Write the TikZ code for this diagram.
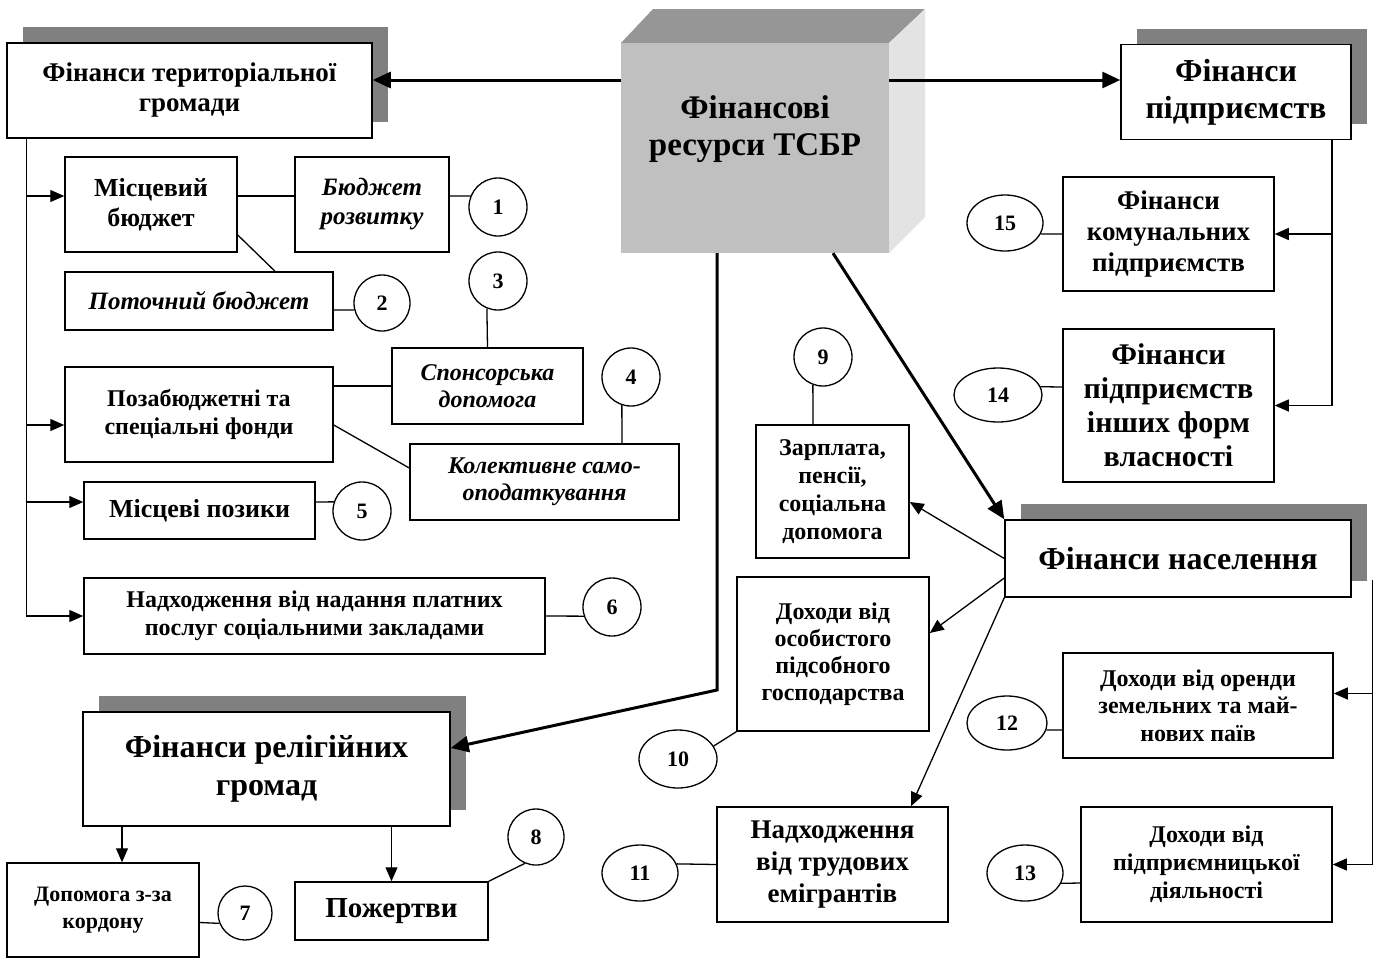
\documentclass[tikz,border=0pt]{standalone}
\usepackage{fontspec}
\setmainfont{Liberation Serif}
\usetikzlibrary{arrows.meta,shapes.geometric,shadows,calc}
\pgfdeclarelayer{back0}
\pgfdeclarelayer{back1}
\pgfsetlayers{back0,back1,main}
\definecolor{shadowgray}{HTML}{808080}
\definecolor{cubefront}{HTML}{C0C0C0}
\definecolor{cubetop}{HTML}{969696}
\definecolor{cuberight}{HTML}{E3E3E3}
\newcommand{\sz}[2]{\fontsize{#1}{#2}\selectfont}
\begin{document}
\begin{tikzpicture}[x=1pt,y=-1pt,
  box/.style={draw, line width=1.5pt, fill=white, align=center, inner sep=1pt},
  shd/.style={drop shadow={shadow xshift=16pt, shadow yshift=16pt, fill=shadowgray, opacity=1}},
  num/.style={circle, draw, line width=1.3pt, fill=white, inner sep=0pt, font=\sz{22}{24}\bfseries},
  oval/.style={ellipse, draw, line width=1.3pt, fill=white, inner sep=0pt, font=\sz{22}{24}\bfseries},
  ln/.style={line width=1.3pt},
  arr/.style={line width=1.3pt, -{Triangle[length=14pt,width=12pt]}},
  thkarr/.style={line width=3pt, -{Triangle[length=18pt,width=16pt]}},
]
\useasboundingbox (0,0) rectangle (1378,959);

% ---- cube ----
\begin{pgfonlayer}{back0}
  \fill[cubetop] (621,43) -- (653,9) -- (925,9) -- (889,43) -- cycle;
  \fill[cuberight] (889,43) -- (925,9) -- (925,217) -- (889,253) -- cycle;
\end{pgfonlayer}
\node[fill=cubefront, minimum width=268, minimum height=210, inner sep=0pt] (cube) at (755,148) {};
\node[align=center, font=\sz{33}{37}\bfseries] (cubetxt) at (755,129) {Фінансові\\ресурси ТСБР};

% ---- main boxes with shadow ----
\node[box, shd, minimum width=365, minimum height=95, font=\sz{27}{30}\bfseries] (tg) at (189.5,90.5) {Фінанси територіальної\\громади};
\node[box, shd, minimum width=230, minimum height=95, font=\sz{32}{37}\bfseries] (fp) at (1236,92) {Фінанси\\підприємств};
\node[box, shd, minimum width=346, minimum height=77, font=\sz{32}{37}\bfseries] (fn) at (1178,558.5) {Фінанси населення};
\node[box, shd, minimum width=367, minimum height=114, font=\sz{32}{38}\bfseries] (frg) at (266.5,769) {Фінанси релігійних\\громад};

% ---- left group ----
\node[box, minimum width=172, minimum height=95, font=\sz{26}{30}\bfseries] (mb) at (151,204.5) {Місцевий\\бюджет};
\node[box, minimum width=154, minimum height=95, font=\sz{25}{29}\bfseries\itshape] (br) at (372,204.5) {Бюджет\\розвитку};
\node[box, minimum width=268, minimum height=58, font=\sz{25}{29}\bfseries\itshape] (pb) at (199,301) {Поточний бюджет};
\node[box, minimum width=191, minimum height=76, font=\sz{24}{27}\bfseries\itshape] (sp) at (487.5,386) {Спонсорська\\допомога};
\node[box, minimum width=268, minimum height=95, font=\sz{24}{28}\bfseries] (pf) at (199,414.5) {Позабюджетні та\\спеціальні фонди};
\node[box, minimum width=269, minimum height=76, font=\sz{24}{27}\bfseries\itshape] (ks) at (544.5,482) {Колективне само-\\оподаткування};
\node[box, minimum width=231, minimum height=57, font=\sz{26}{29}\bfseries] (mp) at (199.5,510.5) {Місцеві позики};
\node[box, minimum width=461, minimum height=76, font=\sz{24}{28}\bfseries] (nd) at (314.5,616) {Надходження від надання платних\\послуг соціальними закладами};

\node[num, minimum size=58] (c1) at (498,207) {1};
\node[num, minimum size=56] (c2) at (382,303) {2};
\node[num, minimum size=58] (c3) at (498,281) {3};
\node[num, minimum size=58] (c4) at (631,377) {4};
\node[num, minimum size=58] (c5) at (362,511) {5};
\node[num, minimum size=58] (c6) at (612,607) {6};

% ---- religious ----
\node[box, minimum width=192, minimum height=94, font=\sz{22}{27}\bfseries] (dz) at (103,910) {Допомога з-за\\кордону};
\node[box, minimum width=193, minimum height=58, font=\sz{29}{32}\bfseries] (pz) at (391.5,911) {Пожертви};
\node[num, minimum size=54] (c7) at (245,913) {7};
\node[num, minimum size=56] (c8) at (536,837) {8};

% ---- population ----
\node[box, minimum width=153, minimum height=133, font=\sz{24}{28}\bfseries] (z9) at (832.5,491.5) {Зарплата,\\пенсії,\\соціальна\\допомога};
\node[num, minimum size=58] (c9) at (823,357) {9};
\node[box, minimum width=192, minimum height=154, font=\sz{24}{27}\bfseries] (d10) at (833,654) {Доходи від\\особистого\\підсобного\\господарства};
\node[oval, minimum width=78, minimum height=58] (e10) at (678,759) {10};
\node[box, minimum width=231, minimum height=115, font=\sz{27}{32}\bfseries] (n11) at (832.5,864.5) {Надходження\\від трудових\\емігрантів};
\node[oval, minimum width=76, minimum height=56] (e11) at (640,873) {11};
\node[box, minimum width=270, minimum height=105, font=\sz{24}{27.5}\bfseries] (d12) at (1198,705.5) {Доходи від оренди\\земельних та май-\\нових паїв};
\node[oval, minimum width=80, minimum height=54] (e12) at (1007,723) {12};
\node[box, minimum width=251, minimum height=115, font=\sz{24}{28}\bfseries] (d13) at (1206.5,864.5) {Доходи від\\підприємницької\\діяльності};
\node[oval, minimum width=76, minimum height=56] (e13) at (1025,873) {13};

% ---- enterprises ----
\node[box, minimum width=211, minimum height=114, font=\sz{27}{31}\bfseries] (f15) at (1168.5,234) {Фінанси\\комунальних\\підприємств};
\node[oval, minimum width=76, minimum height=56] (e15) at (1005,223) {15};
\node[box, minimum width=211, minimum height=153, font=\sz{30}{34}\bfseries] (f14) at (1168.5,405.5) {Фінанси\\підприємств\\інших форм\\власності};
\node[oval, minimum width=88, minimum height=54] (e14) at (998,395) {14};

% ---- thick connectors from the cube (on top) ----
\draw[thkarr] ([yshift=68pt]cube.west) -- ([yshift=10.5pt]tg.east);
\draw[thkarr] ([yshift=68pt]cube.east) -- ([yshift=12pt]fp.west);
\coordinate (bend1) at (717,690);
\draw[thkarr] ([xshift=-38pt]cube.south) -- (bend1) -- ([yshift=21pt]frg.east);
\draw[thkarr] ([xshift=78pt]cube.south) -- (fn.north west);

% ---- thin connectors ----
\begin{pgfonlayer}{back1}
  % left trunk
  \coordinate (lt) at ([xshift=20pt]tg.south west);
  \coordinate (mbin) at ([yshift=8.5pt]mb.west);
  \coordinate (pfin) at ([yshift=-10.5pt]pf.west);
  \coordinate (mpin) at ([yshift=8.5pt]mp.west);
  \draw[arr] (lt) |- (nd.west);
  \draw[arr] (lt |- mbin) -- (mbin);
  \draw[arr] (lt |- pfin) -- (pfin);
  \draw[arr] (lt |- mpin) -- (mpin);
  % left lines
  \draw[ln] ([yshift=8.5pt]mb.east) -- ([yshift=8.5pt]br.west);
  \draw[ln] ([yshift=8.5pt]br.east) -- (c1.158);
  \draw[ln] ([yshift=-30.5pt]mb.east) -- ([xshift=76pt]pb.north);
  \draw[ln] ([yshift=-9pt]pb.east) -- (c2.194);
  \draw[ln] (sp.north) -- (c3.248);
  \draw[ln] (pf.east |- sp.west) -- (sp.west);
  \draw[ln] ([yshift=-10.5pt]pf.east) -- ([yshift=14pt]ks.west);
  \draw[ln] ([xshift=77.5pt]ks.north) -- (c4.252);
  \draw[ln] ([yshift=8.5pt]mp.east) -- (c5.162);
  \draw[ln] (nd.east) -- (c6.198);
  % religious
  \draw[arr] ([xshift=-144.5pt]frg.south) -- ([xshift=19pt]dz.north);
  \draw[arr] (frg.south -| pz.north) -- (pz.north);
  \draw[ln] ([yshift=-12.5pt]dz.east) -- (c7.202);
  \draw[ln] (pz.north east) -- (c8.247);
  % enterprises
  \coordinate (fpt) at ([xshift=96pt]fp.south);
  \draw[arr] (fpt) |- (f14.east);
  \draw[arr] (fpt |- f15.east) -- (f15.east);
  \draw[ln] (f15.west) -- (e15.-17);
  \draw[ln] ([yshift=18.5pt]f14.west) -- (e14.11);
  % population
  \draw[arr] (fn.west) -- ([yshift=-10.5pt]z9.east);
  \draw[arr] ([yshift=-19.5pt]fn.west) -- ([yshift=21pt]d10.east);
  \draw[arr] (fn.south west) -- ([xshift=78.5pt]n11.north);
  \draw[ln] ([xshift=-19.5pt]z9.north) -- (c9.250);
  \draw[ln] (d10.south west) -- (e10.20);
  \draw[ln] (n11.west) -- (e11.14);
  \coordinate (fnt) at ([xshift=21pt,yshift=-21.5pt]fn.east);
  \coordinate (d12in) at ([yshift=12pt]d12.east);
  \draw[arr] (fnt) |- (d13.east);
  \draw[arr] (fnt |- d12in) -- (d12in);
  \draw[ln] ([yshift=-24.5pt]d12.west) -- (e12.-10);
  \draw[ln] ([yshift=-18.5pt]d13.west) -- (e13.-16);
\end{pgfonlayer}
\end{tikzpicture}
\end{document}
